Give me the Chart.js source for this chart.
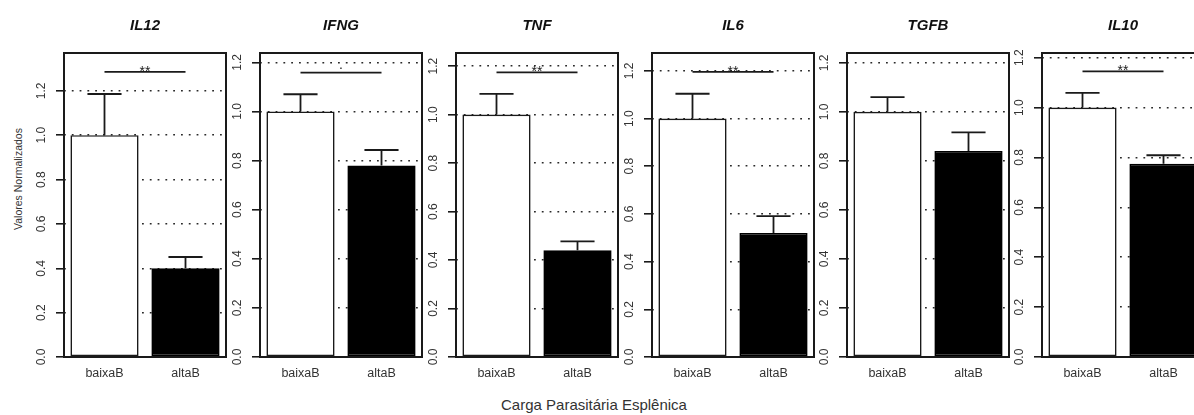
<!DOCTYPE html>
<html><head><meta charset="utf-8">
<script src="https://cdn.jsdelivr.net/npm/chart.js@4.4.1/dist/chart.umd.min.js"></script>
<style>
html,body{margin:0;padding:0;background:#fff;}
#wrap{position:relative;width:1194px;height:415px;overflow:hidden;font-family:"Liberation Sans",Arial,sans-serif;background:#fff;}
#wrap canvas{position:absolute;top:0;}
#ylab{position:absolute;left:18px;top:179px;transform:translate(-50%,-50%) rotate(-90deg);font-size:10.5px;line-height:12px;color:#333;white-space:nowrap;}
#xlab{position:absolute;left:0;width:1188px;top:397px;text-align:center;font-size:15px;line-height:15px;color:#333;white-space:nowrap;}
</style></head><body>
<div id="wrap">
<div id="ylab">Valores Normalizados</div>
<div id="xlab">Carga Parasitária Esplênica</div>
</div>
<script>
// ---- data ----
const cytokines = ['IL12', 'IFNG', 'TNF', 'IL6', 'TGFB', 'IL10'];
const groups = ['baixaB', 'altaB'];
const baixaValues = [1.00, 1.00, 1.00, 1.00, 1.00, 1.00];
const altaValues  = [0.40, 0.78, 0.44, 0.52, 0.84, 0.775];
const baixaErr    = [0.186, 0.07, 0.085, 0.104, 0.06, 0.059];
const altaErr     = [0.051, 0.063, 0.037, 0.071, 0.076, 0.034];
const yMaxValues  = [1.371, 1.238, 1.254, 1.275, 1.24, 1.219];
const sigHeights  = [1.286, 1.158, 1.174, 1.196, null, 1.145];
const sigLabels   = ['**', '.', '**', '**', '', '**'];
const yTickValues = [0, 0.2, 0.4, 0.6, 0.8, 1.0, 1.2];
const yTickLabels = ['0.0', '0.2', '0.4', '0.6', '0.8', '1.0', '1.2'];

// ---- layout ----
const boxLefts = [64, 260, 456, 652, 847, 1042];
const AXIS_W = 40, PLOT_W = 162, CANVAS_H = 390, XAXIS_H = 33;
const FONT = '"Liberation Sans", Arial, sans-serif';
const INK = '#1a1a1a';

const extras = {
  id: 'panelExtras',
  afterDatasetsDraw(chart, args, opts) {
    const i = opts.index;
    const ctx = chart.ctx;
    const meta = chart.getDatasetMeta(0);
    const ys = chart.scales.y;
    const vals = [baixaValues[i], altaValues[i]];
    const errs = [baixaErr[i], altaErr[i]];
    ctx.save();
    ctx.strokeStyle = INK;
    ctx.lineWidth = 1.8;
    meta.data.forEach((bar, j) => {
      const x = bar.x;
      const y0 = ys.getPixelForValue(vals[j]);
      const y1 = ys.getPixelForValue(vals[j] + errs[j]);
      const cap = bar.width / 4;
      ctx.beginPath();
      ctx.moveTo(x, y0); ctx.lineTo(x, y1);
      ctx.moveTo(x - cap, y1); ctx.lineTo(x + cap, y1);
      ctx.stroke();
    });
    if (sigLabels[i]) {
      const ly = ys.getPixelForValue(sigHeights[i]);
      const xa = meta.data[0].x, xb = meta.data[1].x;
      ctx.beginPath();
      ctx.moveTo(xa, ly); ctx.lineTo(xb, ly);
      ctx.stroke();
      ctx.fillStyle = INK;
      ctx.font = '14px ' + FONT;
      ctx.textAlign = 'center';
      ctx.textBaseline = 'alphabetic';
      const off = sigLabels[i] === '.' ? -3.5 : 4;
      ctx.fillText(sigLabels[i], (xa + xb) / 2, ly + off);
    }
    ctx.restore();
  },
  afterDraw(chart) {
    const a = chart.chartArea;
    const ctx = chart.ctx;
    ctx.save();
    ctx.strokeStyle = INK;
    ctx.lineWidth = 2;
    ctx.strokeRect(a.left, a.top, a.right - a.left, a.bottom - a.top);
    ctx.restore();
  }
};

const wrap = document.getElementById('wrap');
cytokines.forEach((name, i) => {
  const cv = document.createElement('canvas');
  cv.width = AXIS_W + PLOT_W + 2;
  cv.height = CANVAS_H;
  cv.style.left = (boxLefts[i] - AXIS_W) + 'px';
  cv.style.width = cv.width + 'px';
  cv.style.height = cv.height + 'px';
  wrap.appendChild(cv);
  new Chart(cv, {
    type: 'bar',
    data: {
      labels: groups,
      datasets: [{
        data: [baixaValues[i], altaValues[i]],
        backgroundColor: ['#ffffff', '#000000'],
        borderColor: [INK, '#000000'],
        borderWidth: 1.6,
        borderSkipped: false,
        barPercentage: 0.842,
        categoryPercentage: 1.0
      }]
    },
    options: {
      responsive: false,
      animation: false,
      devicePixelRatio: 1,
      layout: { padding: { left: 0, right: 2, top: 0, bottom: 0 } },
      plugins: {
        legend: { display: false },
        tooltip: { enabled: false },
        title: {
          display: true,
          text: name,
          fullSize: false,
          color: '#111',
          font: { family: FONT, size: 15, weight: 'bold', style: 'italic', lineHeight: 1.2 },
          padding: { top: 16.8, bottom: 18.2 }
        },
        panelExtras: { index: i }
      },
      scales: {
        x: {
          type: 'category',
          grid: { display: false, drawTicks: false },
          border: { display: false },
          ticks: { color: '#333', font: { family: FONT, size: 12.5 }, padding: 9, maxRotation: 0 },
          afterFit: s => { s.height = XAXIS_H; }
        },
        y: {
          type: 'linear',
          min: 0,
          max: yMaxValues[i],
          afterBuildTicks: s => { s.ticks = yTickValues.map(v => ({ value: v })); },
          afterFit: s => { s.width = AXIS_W; },
          ticks: {
            callback: (v, idx) => yTickLabels[idx],
            color: '#333',
            font: { family: FONT, size: 12 },
            minRotation: 90,
            maxRotation: 90,
            crossAlign: 'center',
            padding: 5.5
          },
          grid: {
            color: c => (c.tick && c.tick.value === 0) ? 'rgba(0,0,0,0)' : '#2a2a2a',
            lineWidth: 1.6,
            drawTicks: true,
            tickLength: 8,
            tickColor: INK,
            tickWidth: 1.6
          },
          border: { display: false, dash: [1.8, 6] }
        }
      }
    },
    plugins: [extras]
  });
});
</script>
</body></html>
